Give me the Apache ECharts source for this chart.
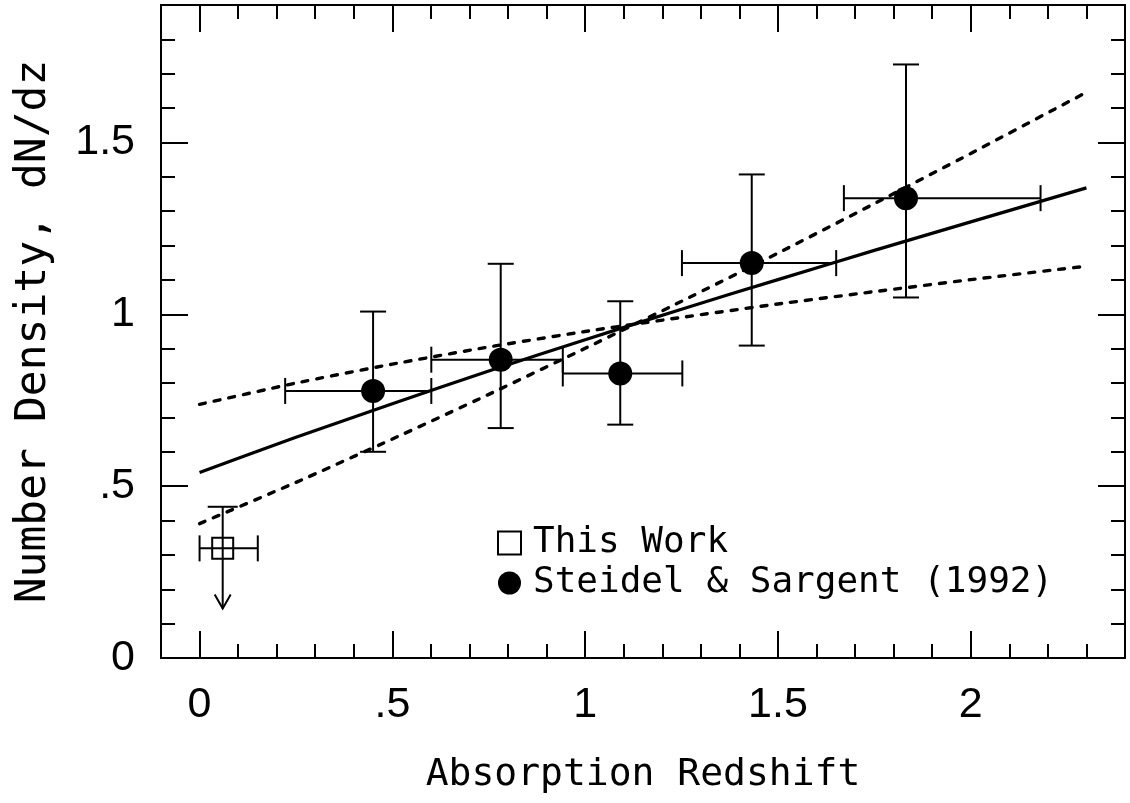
<!DOCTYPE html>
<html>
<head>
<meta charset="utf-8">
<script src="https://cdn.jsdelivr.net/npm/echarts@6/dist/echarts.min.js"></script>
<style>html,body{margin:0;padding:0;background:#fff}#c{width:1130px;height:803px}</style>
</head>
<body>
<div id="c"></div>
<script>
// ---- data ----
const xRange = [-0.1, 2.4];
const yRange = [0, 1.9];
const xMajorTicks = [0, 0.5, 1, 1.5, 2];
const yMajorTicks = [0, 0.5, 1, 1.5];
const xTickLabels = ['0', '.5', '1', '1.5', '2'];
const yTickLabels = ['0', '.5', '1', '1.5'];

// Steidel & Sargent (1992)
const ssZ    = [0.450, 0.781, 1.091, 1.432, 1.832];
const ssN    = [0.777, 0.868, 0.828, 1.149, 1.338];
const ssZlo  = [0.222, 0.601, 0.942, 1.251, 1.671];
const ssZhi  = [0.601, 0.942, 1.252, 1.651, 2.181];
const ssNlo  = [0.600, 0.669, 0.679, 0.909, 1.049];
const ssNhi  = [1.008, 1.147, 1.038, 1.407, 1.727];

// This Work (upper limit)
const twZ = [0.060];
const twN = [0.319];
const twZlo = [0.000];
const twZhi = [0.151];
const twLimit = [0.440];
const twArrowTip = [0.144];

// fitted curves
const fitZ       = [0, 0.25, 0.5, 0.75, 1, 1.25, 1.5, 1.75, 2, 2.3];
const fitBest    = [0.540, 0.642, 0.740, 0.835, 0.926, 1.015, 1.101, 1.186, 1.269, 1.368];
const fitSteep   = [0.391, 0.511, 0.637, 0.767, 0.901, 1.038, 1.178, 1.322, 1.468, 1.646];
const fitShallow = [0.738, 0.800, 0.855, 0.905, 0.950, 0.991, 1.030, 1.066, 1.101, 1.140];

// ---- build ----
const zip = (a, b) => a.map((v, i) => [v, b[i]]);
const labelFor = (vals, labels) => v => {
  const i = vals.findIndex(t => Math.abs(t - v) < 1e-6);
  return i >= 0 ? labels[i] : '';
};
const HERSHEY = 'DejaVu Sans Mono';
const BLACK = '#000';

const ssErr = ssZ.map((z, i) => [z, ssN[i], ssZlo[i], ssZhi[i], ssNlo[i], ssNhi[i]]);
const twErr = twZ.map((z, i) => [z, twN[i], twZlo[i], twZhi[i], twLimit[i], twArrowTip[i]]);

const CAP = 13;
function seg(p1, p2, w) {
  return { type: 'line', shape: { x1: p1[0], y1: p1[1], x2: p2[0], y2: p2[1] },
           style: { stroke: BLACK, lineWidth: w || 2 } };
}
function errRender(params, api) {
  const z = api.value(0), n = api.value(1);
  const l = api.coord([api.value(2), n]), r = api.coord([api.value(3), n]);
  const b = api.coord([z, api.value(4)]), t = api.coord([z, api.value(5)]);
  return { type: 'group', children: [
    seg(l, r), seg([l[0], l[1] - CAP], [l[0], l[1] + CAP]), seg([r[0], r[1] - CAP], [r[0], r[1] + CAP]),
    seg(b, t), seg([b[0] - CAP, b[1]], [b[0] + CAP, b[1]]), seg([t[0] - CAP, t[1]], [t[0] + CAP, t[1]])
  ]};
}
function limitRender(params, api) {
  const z = api.value(0), n = api.value(1);
  const l = api.coord([api.value(2), n]), r = api.coord([api.value(3), n]);
  const top = api.coord([z, api.value(4)]), tip = api.coord([z, api.value(5)]);
  return { type: 'group', children: [
    seg(l, r), seg([l[0], l[1] - CAP], [l[0], l[1] + CAP]), seg([r[0], r[1] - CAP], [r[0], r[1] + CAP]),
    seg(top, tip), seg([top[0] - 15, top[1]], [top[0] + 15, top[1]]),
    { type: 'polyline', shape: { points: [[tip[0] - 8, tip[1] - 14], tip, [tip[0] + 8, tip[1] - 14]] },
      style: { stroke: BLACK, lineWidth: 2, fill: null } }
  ]};
}

function xAx(pos, major) {
  return {
    type: 'value', position: pos, min: xRange[0], max: xRange[1],
    interval: major ? undefined : 0.1,
    axisLine: { show: major, onZero: false, lineStyle: { color: BLACK, width: 2 } },
    axisTick: major
      ? { show: true, inside: true, length: 27, customValues: xMajorTicks, lineStyle: { color: BLACK, width: 2 } }
      : { show: true, inside: true, length: 14, lineStyle: { color: BLACK, width: 2 } },
    axisLabel: (major && pos === 'bottom')
      ? { show: true, customValues: xMajorTicks, formatter: labelFor(xMajorTicks, xTickLabels),
          fontFamily: 'Liberation Sans', fontSize: 43, color: BLACK, margin: 26 }
      : { show: false },
    splitLine: { show: false },
    name: (major && pos === 'bottom') ? 'Absorption Redshift' : '',
    nameLocation: 'middle', nameGap: 98,
    nameTextStyle: { fontFamily: HERSHEY, fontSize: 38, color: BLACK }
  };
}
function yAx(pos, major) {
  return {
    type: 'value', position: pos, min: yRange[0], max: yRange[1],
    interval: major ? 0.5 : 0.1,
    axisLine: { show: major, onZero: false, lineStyle: { color: BLACK, width: 2 } },
    axisTick: major
      ? { show: true, inside: true, length: 27, customValues: yMajorTicks, lineStyle: { color: BLACK, width: 2 } }
      : { show: true, inside: true, length: 14, lineStyle: { color: BLACK, width: 2 } },
    axisLabel: (major && pos === 'left')
      ? { show: true, customValues: yMajorTicks, formatter: labelFor(yMajorTicks, yTickLabels),
          fontFamily: 'Liberation Sans', fontSize: 43, color: BLACK, margin: 26 }
      : { show: false },
    splitLine: { show: false },
    name: (major && pos === 'left') ? 'Number Density, dN/dz' : '',
    nameLocation: 'middle', nameGap: 106, nameRotate: 90,
    nameTextStyle: { fontFamily: HERSHEY, fontSize: 43, color: BLACK }
  };
}

const chart = echarts.init(document.getElementById('c'), null, { renderer: 'canvas' });
chart.setOption({
  backgroundColor: '#fff',
  animation: false,
  grid: { left: 161, right: 5, top: 5, bottom: 145, show: true, borderColor: BLACK, borderWidth: 2, backgroundColor: 'transparent' },
  xAxis: [xAx('bottom', true), xAx('bottom', false), xAx('top', true), xAx('top', false)],
  yAxis: [yAx('left', true), yAx('left', false), yAx('right', true), yAx('right', false)],
  legend: {
    orient: 'vertical', left: 497, top: 525, padding: 0, itemWidth: 23, itemHeight: 23, itemGap: 4,
    textStyle: { fontFamily: HERSHEY, fontSize: 36, color: BLACK, padding: [0, 0, 0, 7] },
    data: [
      { name: 'This Work', icon: 'rect', itemStyle: { color: '#fff', borderColor: BLACK, borderWidth: 2 } },
      { name: 'Steidel & Sargent (1992)', icon: 'circle', itemStyle: { color: BLACK, borderWidth: 0 } }
    ]
  },
  series: [
    { type: 'line', data: zip(fitZ, fitBest), smooth: 0.2, symbol: 'none', z: 2,
      lineStyle: { color: BLACK, width: 3.2 } },
    { type: 'line', data: zip(fitZ, fitSteep), smooth: 0.2, symbol: 'none', z: 2,
      lineStyle: { color: BLACK, width: 3.4, type: [6, 9], cap: 'round' } },
    { type: 'line', data: zip(fitZ, fitShallow), smooth: 0.2, symbol: 'none', z: 2,
      lineStyle: { color: BLACK, width: 3.4, type: [6, 9], cap: 'round' } },
    { type: 'custom', renderItem: errRender, data: ssErr, z: 3, encode: { x: 0, y: 1 } },
    { type: 'custom', renderItem: limitRender, data: twErr, z: 3, encode: { x: 0, y: 1 } },
    { name: 'Steidel & Sargent (1992)', type: 'scatter', data: zip(ssZ, ssN), symbol: 'circle', symbolSize: 24, z: 4,
      itemStyle: { color: BLACK, opacity: 1 } },
    { name: 'This Work', type: 'scatter', data: zip(twZ, twN), symbol: 'rect', symbolSize: 21, z: 4,
      itemStyle: { color: 'rgba(0,0,0,0)', borderColor: BLACK, borderWidth: 2, opacity: 1 } }
  ]
});
</script>
</body>
</html>
